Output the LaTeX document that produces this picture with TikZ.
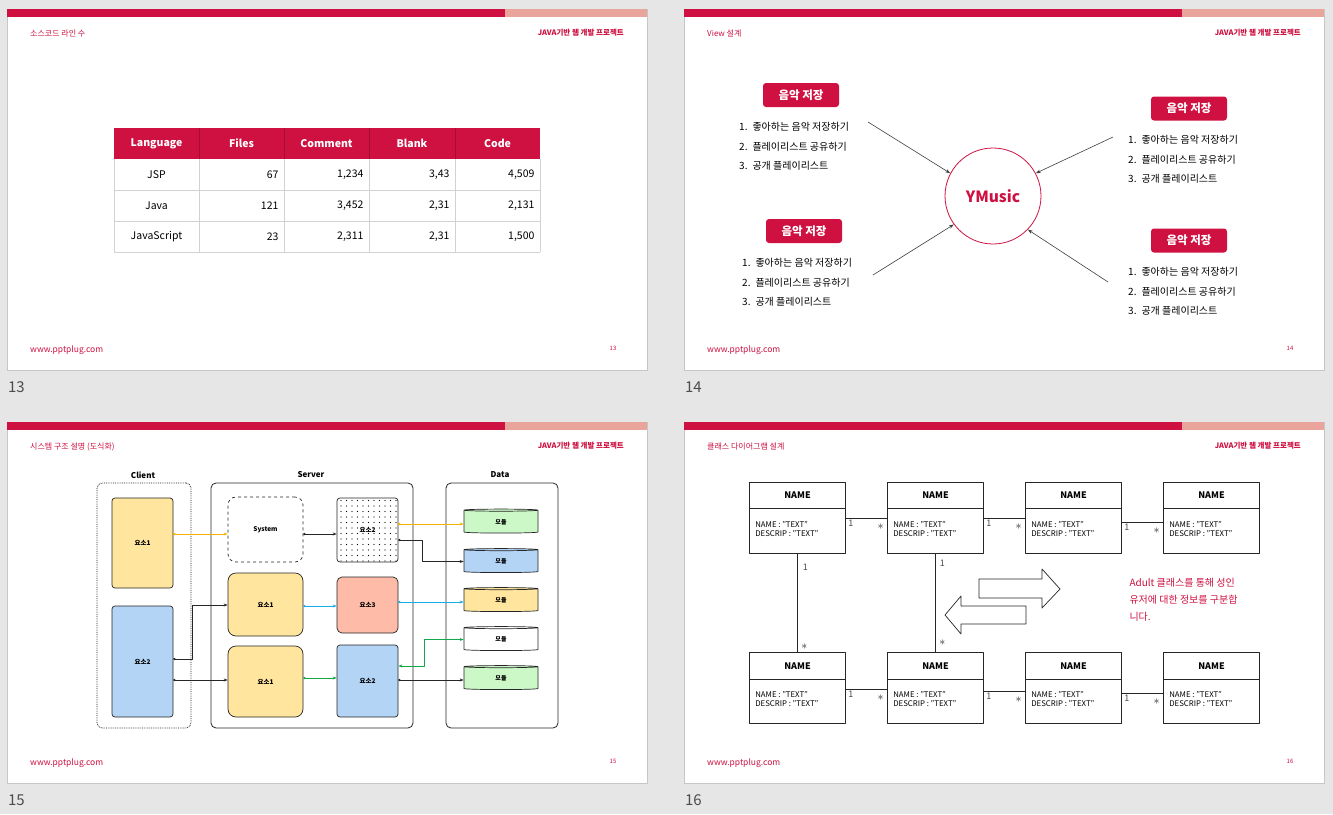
\documentclass[tikz,border=0pt]{standalone}
\usepackage{fontspec}
\setmainfont{Noto Sans CJK KR}
\usetikzlibrary{arrows.meta,shapes.geometric,patterns.meta}
\definecolor{brand}{HTML}{CE1141}
\definecolor{brandlight}{HTML}{E9A59C}
\definecolor{pagebg}{HTML}{E6E6E6}
\definecolor{slideline}{HTML}{C6C6C6}
\definecolor{gridline}{HTML}{D2D2D2}
\definecolor{ylw}{HTML}{FFE59E}
\definecolor{blu}{HTML}{B3D4F5}
\definecolor{sal}{HTML}{FDBBA8}
\definecolor{grn}{HTML}{CBF8C6}
\definecolor{lnyellow}{HTML}{F4B400}
\definecolor{lnblue}{HTML}{17AEEA}
\definecolor{lngreen}{HTML}{12A84A}
\newcommand{\fs}[1]{\fontsize{#1}{#1}\selectfont}
\tikzset{
  slide/.style={draw=slideline, fill=white, line width=0.8pt},
  hdr/.style={anchor=west, inner sep=0pt, text=brand, font=\fs{8}},
  proj/.style={anchor=east, inner sep=0pt, text=brand, font=\fs{7.5}\bfseries},
  foot/.style={anchor=west, inner sep=0pt, text=brand, font=\fs{8.5}},
  pgno/.style={text=brand, font=\fs{6}},
  thumbno/.style={anchor=west, text=black!70, font=\fs{15}},
  thd/.style={text=white, font=\fs{10.5}\bfseries},
  tcell/.style={font=\fs{10.5}},
  pill/.style={fill=brand, rounded corners=3pt, text=white, font=\fs{11.5}\bfseries,
    minimum width=76pt, minimum height=24pt},
  item/.style={anchor=west, inner sep=0pt, font=\fs{10}},
  hub/.style={circle, draw=brand, line width=0.8pt, minimum size=96pt, text=brand,
    font=\fs{15.5}\bfseries},
  arr/.style={-{Stealth[length=5pt,width=3.5pt]}, draw=black!75, line width=0.6pt},
  grp/.style={draw=black!85, line width=0.8pt, rounded corners=5pt},
  blk/.style={draw=black!85, line width=0.7pt, rounded corners=3pt, font=\fs{6.5}\bfseries},
  grplabel/.style={font=\fs{8}\bfseries},
  db/.style={cylinder, shape border rotate=90, draw=black!85, line width=0.7pt, aspect=0.12,
    minimum width=74pt, minimum height=24pt, font=\fs{6}\bfseries},
  flow/.style={{Circle[length=2.2pt]}-{Stealth[length=4pt,width=3pt]}, line width=0.7pt},
  cls/.style={draw=black!85, line width=0.8pt, minimum width=96pt, minimum height=71pt},
  clsname/.style={font=\fs{9}\bfseries},
  attr/.style={anchor=west, inner sep=0pt, font=\fs{7.8}},
  one/.style={font=\fs{9}, text=black!70, inner sep=0pt},
  many/.style={font=\fs{12}, inner sep=0pt},
  note/.style={anchor=west, align=left, text=brand, font=\fontsize{10}{17}\selectfont}
}
\begin{document}
\begin{tikzpicture}[x=1pt, y=-1pt, line join=round]
  \fill[pagebg] (0,0) rectangle (1333,814);
  \foreach \sx/\sy/\n/\title in {7/9/13/소스코드 라인 수, 684/9/14/View 설계,
      7/422/15/시스템 구조 설명 (도식화), 684/422/16/클래스 다이어그램 설계} {
    \draw[slide] (\sx,\sy) rectangle +(640,361);
    \fill[brand] (\sx,\sy) rectangle +(498,8);
    \fill[brandlight] (\sx+498,\sy) rectangle (\sx+640,\sy+8);
    \node[hdr] (title\n) at (\sx+23,\sy+25) {\title};
    \node[proj] (proj\n) at (\sx+617,\sy+24) {JAVA기반 웹 개발 프로젝트};
    \node[foot] (url\n) at (\sx+23,\sy+341) {www.pptplug.com};
    \node[pgno] (pg\n) at (\sx+606,\sy+339) {\n};
    \node[thumbno] (no\n) at (\sx-2.5,\sy+378) {\n};
  }

  \fill[brand] (114,128) rectangle (540,159);
  \foreach \x in {199,284,369,455}
    \draw[brand!80!black, line width=0.4pt] (\x,128) -- (\x,159);
  \foreach \x/\t [count=\i] in {156.5/Language, 241.5/Files, 326.5/Comment, 412/Blank, 497.5/Code}
    \node[thd] (th\i) at (\x,143.5) {\t};
  \foreach \y in {190,221,252}
    \draw[gridline, line width=0.8pt] (114,\y) -- (540,\y);
  \foreach \x in {114,199,284,369,455,540}
    \draw[gridline, line width=0.8pt] (\x,159) -- (\x,252);
  \foreach \y/\lang/\fil/\com/\bla/\cod [count=\r] in {
      174.5/JSP/67/{1,234}/{3,43}/{4,509},
      205.5/Java/121/{3,452}/{2,31}/{2,131},
      236.5/JavaScript/23/{2,311}/{2,31}/{1,500}} {
    \node[tcell] (cell\r-1) at (156.5,\y) {\lang};
    \node[tcell, anchor=east] (cell\r-2) at (282,\y) {\fil};
    \node[tcell, anchor=east] (cell\r-3) at (367,\y) {\com};
    \node[tcell, anchor=east] (cell\r-4) at (453,\y) {\bla};
    \node[tcell, anchor=east] (cell\r-5) at (538,\y) {\cod};
  }

  \node[hub] (ym) at (993,196) {YMusic};
  \foreach \px/\py/\lx/\ly/\id in {801/95/739/127/a, 804/231/742/263/b,
      1189/108.5/1128/140/c, 1189/240.5/1128/272/d} {
    \node[pill] (pill\id) at (\px,\py) {음악 저장};
    \node[item] (\id1) at (\lx,\ly) {1.\enspace 좋아하는 음악 저장하기};
    \node[item] (\id2) at (\lx,\ly+19.5) {2.\enspace 플레이리스트 공유하기};
    \node[item] (\id3) at (\lx,\ly+39) {3.\enspace 공개 플레이리스트};
  }
  \coordinate (sa) at (868,122);
  \coordinate (sb) at (873,275);
  \coordinate (sc) at (1113,137);
  \coordinate (sd) at (1108,282);
  \draw[arr] (sa) -- (ym.152);
  \draw[arr] (sb) -- (ym.-144);
  \draw[arr] (sc) -- (ym.28);
  \draw[arr] (sd) -- (ym.-44);

  \node[grplabel] (lclient) at (143,475) {Client};
  \node[grplabel] (lserver) at (311,475) {Server};
  \node[grplabel] (ldata) at (500,475) {Data};
  \node[grp, densely dotted, minimum width=94pt, minimum height=245pt] (client) at (144,605.5) {};
  \node[grp, minimum width=202pt, minimum height=245pt] (server) at (312,605.5) {};
  \node[grp, minimum width=112pt, minimum height=245pt] (data) at (502,605.5) {};
  \node[blk, fill=ylw, minimum width=61pt, minimum height=90pt] (ce1) at (142.5,543) {요소1};
  \node[blk, fill=blu, minimum width=61pt, minimum height=111pt] (ce2) at (142.5,661.5) {요소2};
  \node[blk, dashed, rounded corners=8pt, fill=white, minimum width=75pt, minimum height=65pt] (sys) at (265.5,529.5) {System};
  \node[blk, pattern={Dots[distance=5.5pt, radius=0.6pt]}, minimum width=61pt, minimum height=64pt] (dz2) at (367.5,530) {요소2};
  \node[blk, fill=ylw, rounded corners=8pt, minimum width=75pt, minimum height=63pt] (s1) at (265.5,604.5) {요소1};
  \node[blk, fill=sal, rounded corners=5pt, minimum width=61pt, minimum height=56pt] (s3) at (367.5,605) {요소3};
  \node[blk, fill=ylw, rounded corners=8pt, minimum width=75pt, minimum height=71pt] (s4) at (265.5,681.5) {요소1};
  \node[blk, fill=blu, minimum width=61pt, minimum height=72pt] (s5) at (367.5,681) {요소2};
  \foreach \y/\c [count=\i] in {522/grn, 561.5/blu, 600.5/ylw, 639.5/white, 678.5/grn}
    \node[db, fill=\c] (cy\i) at (501,\y) {모듈};

  \draw[flow, lnyellow] (ce1.east |- 0,534) -- (sys.west |- 0,534);
  \draw[flow, black!85] (sys.east |- 0,534) -- (dz2.west |- 0,534);
  \draw[flow, lnyellow] (dz2.east |- 0,524) -- (cy1.west |- 0,524);
  \draw[flow, black!85] (dz2.east |- 0,540) -- (422,540) |- (cy2.west);
  \draw[flow, black!85] (ce2.east |- 0,659) -- (192,659) |- (s1.west |- 0,605);
  \draw[flow, black!85] (ce2.east |- 0,680) -- (s4.west |- 0,680);
  \draw[flow, lnblue] (s1.east |- 0,606) -- (s3.west |- 0,606);
  \draw[flow, lnblue] (s3.east |- 0,602) -- (cy3.west |- 0,602);
  \draw[flow, lngreen] (s4.east |- 0,678) -- (s5.west |- 0,678);
  \draw[{Stealth[length=4pt,width=3pt]}-{Stealth[length=4pt,width=3pt]}, line width=0.7pt, lngreen]
    (s5.east |- 0,666) -- (424,666) |- (cy4.west);
  \draw[flow, black!85] (s5.east |- 0,680) -- (cy5.west |- 0,680);

  \foreach \cx [count=\c] in {797.5,935.5,1073.5,1211.5}
    \foreach \cy/\r in {517.5/1, 688/2} {
      \node[cls] (k\r\c) at (\cx,\cy) {};
      \draw[black!85, line width=0.8pt] ([yshift=-27pt]k\r\c.north west) -- ([yshift=-27pt]k\r\c.north east);
      \node[clsname] (kn\r\c) at ([yshift=-14pt]k\r\c.north) {NAME};
      \node[attr] (ka\r\c) at ([xshift=6pt,yshift=-42.5pt]k\r\c.north west) {NAME : "TEXT"};
      \node[attr] (kd\r\c) at ([xshift=6pt,yshift=-51.5pt]k\r\c.north west) {DESCRIP : "TEXT"};
    }
  \foreach \a/\b/\y/\r in {1/2/518/1, 2/3/518/1, 3/4/522/1, 1/2/689/2, 2/3/691/2, 3/4/693/2}
    \draw[black!85, line width=0.8pt] (k\r\a.east |- 0,\y)
      -- node[one, pos=0, anchor=west, xshift=2pt, yshift=-5pt] (o\r\a) {1}
         node[many, pos=1, anchor=east, xshift=-3pt, yshift=-9pt] (m\r\a) {$\ast$}
      (k\r\b.west |- 0,\y);
  \draw[black!85, line width=0.8pt] (k11.south)
    -- node[one, pos=0, anchor=west, xshift=5pt, yshift=-14pt] (v1a) {1}
       node[many, pos=1, anchor=west, xshift=3.5pt, yshift=5pt] (v1b) {$\ast$} (k21.north);
  \draw[black!85, line width=0.8pt] (k12.south)
    -- node[one, pos=0, anchor=west, xshift=4pt, yshift=-10pt] (v2a) {1}
       node[many, pos=1, anchor=west, xshift=3.5pt, yshift=9pt] (v2b) {$\ast$} (k22.north);
  \draw[black!85, line width=0.7pt, fill=white] (979,579) -- (1042,579) -- (1042,569) -- (1060,589)
    -- (1042,608) -- (1042,598) -- (979,598) -- cycle;
  \draw[black!85, line width=0.7pt, fill=white] (1026,606) -- (961,606) -- (961,596) -- (945,615)
    -- (961,634) -- (961,624) -- (1026,624) -- cycle;
  \node[note] (adult) at (1126,600) {Adult 클래스를 통해 성인\\유저에 대한 정보를 구분합\\니다.};
\end{tikzpicture}
\end{document}
